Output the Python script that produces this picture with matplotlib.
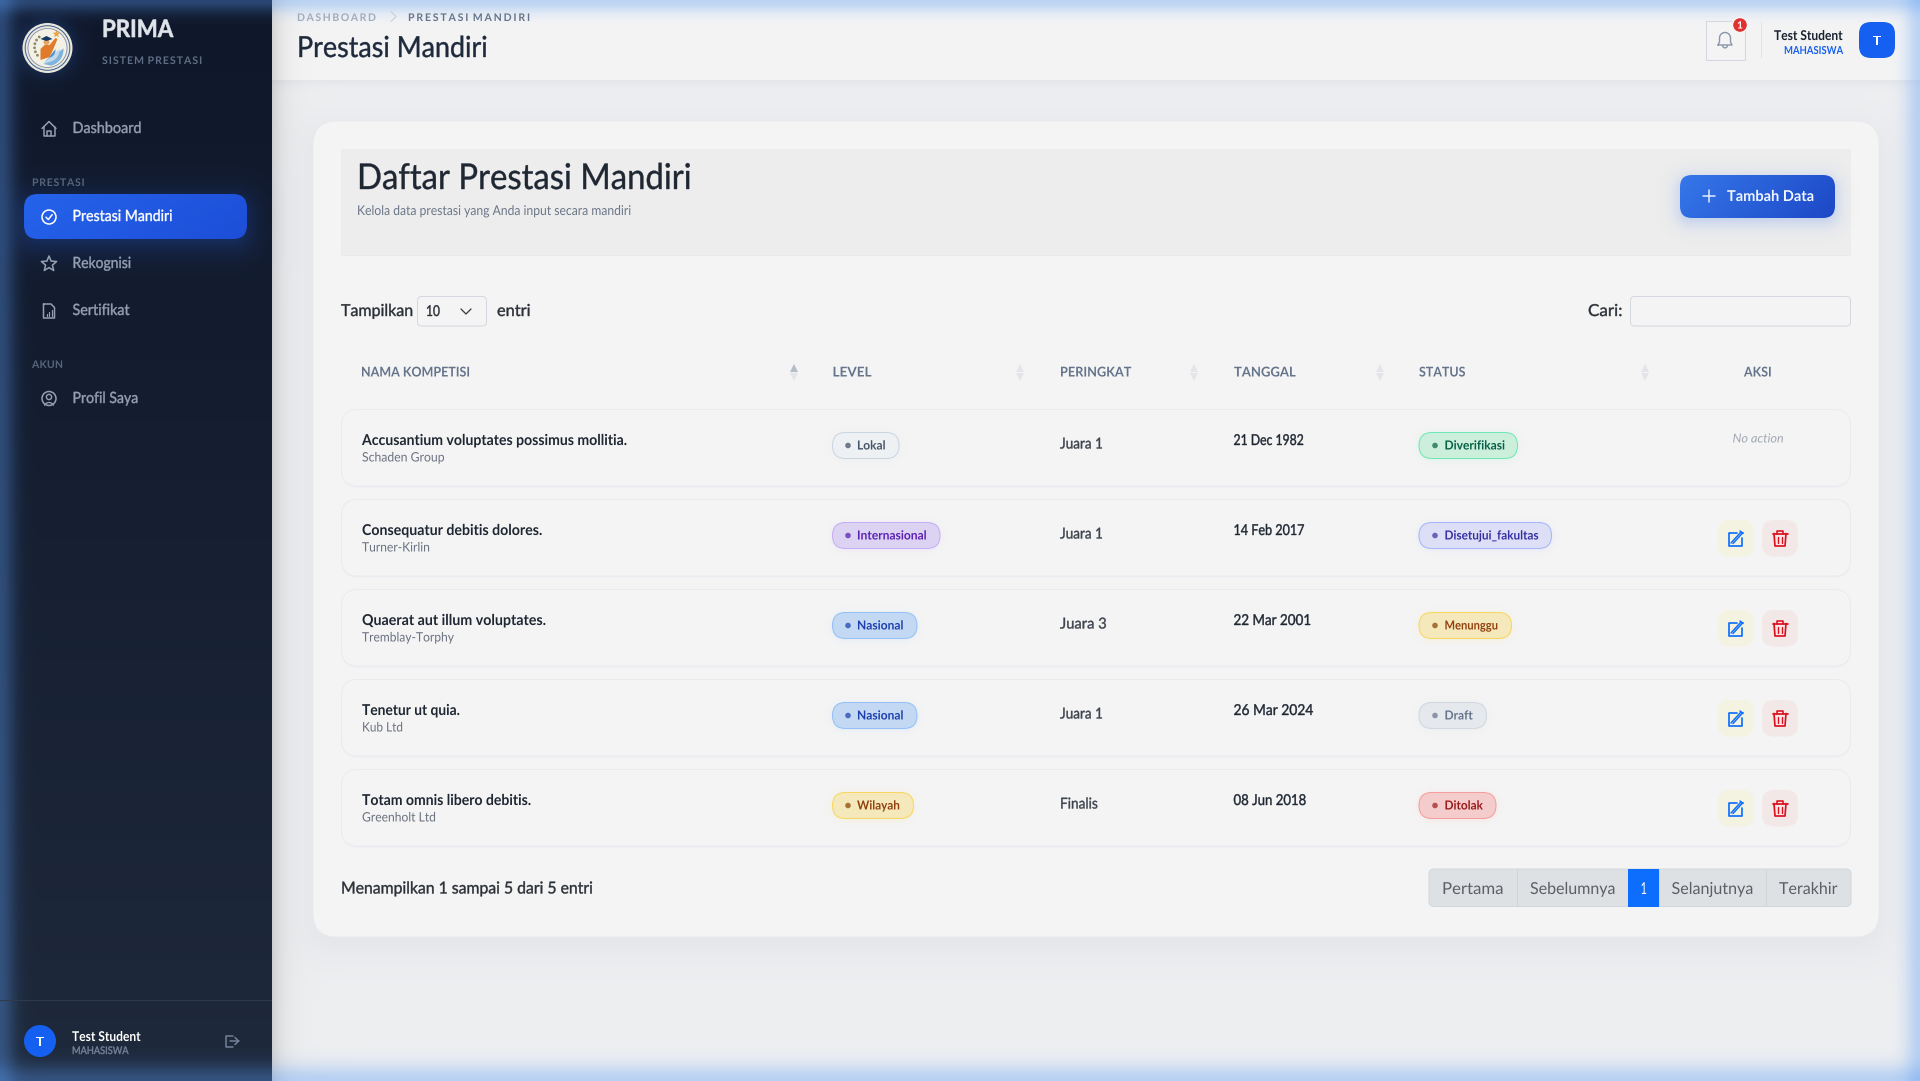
#!/usr/bin/env python3
"""Prestasi Mandiri page of the PRIMA dashboard, drawn in pixel coordinates."""
import numpy as np
import matplotlib
matplotlib.use("Agg")
import matplotlib.pyplot as plt
from matplotlib.patches import Circle, FancyBboxPatch, Polygon, Rectangle
from matplotlib.path import Path
from matplotlib.patheffects import AbstractPathEffect
from matplotlib.transforms import Affine2D

W, H = 1920, 1081
FONT = ["Lato", "DejaVu Sans"]

# table content
names = [
    "Accusantium voluptates possimus mollitia.",
    "Consequatur debitis dolores.",
    "Quaerat aut illum voluptates.",
    "Tenetur ut quia.",
    "Totam omnis libero debitis.",
]
companies = ["Schaden Group", "Turner-Kirlin", "Tremblay-Torphy", "Kub Ltd", "Greenholt Ltd"]
levels = ["Lokal", "Internasional", "Nasional", "Nasional", "Wilayah"]
ranks = ["Juara 1", "Juara 1", "Juara 3", "Juara 1", "Finalis"]
dates = ["21 Dec 1982", "14 Feb 2017", "22 Mar 2001", "26 Mar 2024", "08 Jun 2018"]
statuses = ["Diverifikasi", "Disetujui_fakultas", "Menunggu", "Draft", "Ditolak"]
headers = ["NAMA KOMPETISI", "LEVEL", "PERINGKAT", "TANGGAL", "STATUS", "AKSI"]
pages = ["Pertama", "Sebelumnya", "1", "Selanjutnya", "Terakhir"]

# measured layout, same order as the lists above
name_right = [627, 542.5, 546, 460, 531]
company_right = [444.5, 430, 454, 403, 436]
level_text_right = [885.5, 927, 903.5, 903.5, 900]
level_pill_right = [899, 940, 917, 917, 913.5]
rank_right = [1103, 1103, 1107, 1103, 1098]
date_right = [1304, 1304.5, 1311, 1313, 1306.5]
status_text_right = [1505, 1539, 1498, 1473, 1483]
status_pill_right = [1517.5, 1551.5, 1511.5, 1486.5, 1496]
header_x = [(361, 471), (832.5, 872), (1060, 1132), (1234, 1296), (1419, 1466), (1744, 1772)]
sort_x = [793.5, 1020, 1194, 1380, 1645]
page_edges = [1429, 1517, 1628, 1659, 1766, 1851]
page_text = [(1442, 1503.5), (1530, 1615.5), (1640.5, 1647), (1671.5, 1753.5), (1779, 1837.5)]

# fill, border, text, dot
PILL = {
    "Lokal": ("#eef1f4", "#cbd5e1", "#475569", "#6f7b8c"),
    "Internasional": ("#dcd3f3", "#c4aef5", "#5b21b6", "#7c4fc0"),
    "Nasional": ("#c3d8f3", "#93c1f8", "#1e40af", "#4a6bc0"),
    "Wilayah": ("#f5e9bb", "#f6d860", "#92400e", "#a67238"),
    "Diverifikasi": ("#ccefdc", "#6ee7b7", "#065f46", "#3f8a6d"),
    "Disetujui_fakultas": ("#dcdff5", "#a5b4fc", "#3730a3", "#6a64b8"),
    "Menunggu": ("#f5e9bb", "#f6d860", "#92400e", "#a67238"),
    "Draft": ("#e5e9ee", "#d1d7e0", "#64748b", "#8a94a6"),
    "Ditolak": ("#f5cccc", "#f59c9c", "#991b1b", "#b55050"),
}


class FitText(AbstractPathEffect):
    """Outfit is not installed, so Lato gets fitted to the measured width.

    sx stretches the glyphs, track (px) adds CSS style letter spacing,
    thicken strokes the outline to stand in for the missing medium weight.
    """

    def __init__(self, sx=1.0, track=0.0, thicken=0.0):
        super().__init__()
        self.sx = sx
        self.track = track
        self.thicken = thicken

    def draw_path(self, renderer, gc, tpath, affine, rgbFace=None):
        if self.track:
            tpath = self.spaced(tpath, self.track / affine.get_matrix()[0, 0])
        gc.set_linewidth(self.thicken)
        renderer.draw_path(gc, tpath, Affine2D().scale(self.sx, 1) + affine, rgbFace)

    @staticmethod
    def spaced(tpath, track):
        verts = tpath.vertices.copy()
        starts = np.flatnonzero(tpath.codes == Path.MOVETO)
        ends = np.r_[starts[1:], len(verts)]
        glyph, right = -1, -np.inf
        for s, e in zip(starts, ends):
            # contours overlapping in x belong to one glyph (holes, dots),
            # the margin lets kerned neighbours count as separate glyphs
            if verts[s:e, 0].min() >= right - 4:
                glyph += 1
                right = verts[s:e, 0].max()
            else:
                right = max(right, verts[s:e, 0].max())
            verts[s:e, 0] += glyph * track
        return Path(verts, tpath.codes)


def rgb(color):
    return np.array(matplotlib.colors.to_rgb(color))


def rrect_dist(xx, yy, x0, y0, x1, y1, r):
    qx = np.abs(xx - (x0 + x1) / 2) - (x1 - x0) / 2 + r
    qy = np.abs(yy - (y0 + y1) / 2) - (y1 - y0) / 2 + r
    return np.hypot(np.maximum(qx, 0), np.maximum(qy, 0)) + np.minimum(np.maximum(qx, qy), 0) - r


def shadow(img, x0, y0, x1, y1, r, blur, color, alpha, dy=0):
    yy, xx = np.mgrid[0:H, 0:W] + 0.5
    d = rrect_dist(xx, yy, x0, y0 + dy, x1, y1 + dy, r)
    a = alpha / (1 + np.exp(np.clip(d / (blur * 0.4), -30, 30)))
    img += (rgb(color) - img) * a[..., None]


def soft_shadow(x0, y0, x1, y1, r, blur, color, alpha, dy=0, zorder=3):
    # same falloff as shadow(), as an overlay for boxes sitting on patches
    m = int(blur * 2)
    gx0, gy0 = int(x0) - m, int(y0) - m
    gx1, gy1 = int(x1) + m, int(y1) + m + int(dy)
    yy, xx = np.mgrid[gy0:gy1, gx0:gx1] + 0.5
    d = rrect_dist(xx, yy, x0, y0 + dy, x1, y1 + dy, r)
    rgba = np.zeros(d.shape + (4,))
    rgba[..., :3] = rgb(color)
    rgba[..., 3] = alpha / (1 + np.exp(np.clip(d / (blur * 0.4), -30, 30)))
    ax.imshow(rgba, extent=(gx0, gx1, gy1, gy0), zorder=zorder, interpolation="nearest", aspect="auto")


def build_background():
    img = np.zeros((H, W, 3))
    img[:] = rgb("#eeeff1")
    # header
    shadow(img, 272, -40, W + 40, 80, 0, 8, "#64748b", 0.14, dy=1)
    img[:80, 272:] = rgb("#f4f4f4")
    img[80, 272:] = rgb("#e6e7ea")
    # card shadow
    shadow(img, 313, 121, 1879, 937, 24, 34, "#64748b", 0.10, dy=10)
    # sidebar with the shadow it throws on the page
    grad = np.linspace(0, 1, H)[:, None, None]
    xs = np.arange(W - 272)[None, :, None]
    img[:, 272:] *= 1 - 0.13 * np.exp(-xs / 11.0)
    img[:, :272] = rgb("#0f172a") * (1 - grad) + rgb("#1e293b") * grad
    shadow(img, 24, 194, 247, 239, 14, 22, "#2563eb", 0.36, dy=6)
    shadow(img, 23, 23, 72, 72, 24, 14, "#3b82f6", 0.30)
    # blue inner glow along the window edge
    yy, xx = np.mgrid[0:H, 0:W] + 0.5
    for dist, s in ((xx, 15.0), (W - xx, 15.0), (yy, 13.0), (H - yy, 17.0)):
        a = 0.36 * np.exp(-((dist / s) ** 2))
        img += (rgb("#5a9cf5") - img) * a[..., None]
    return np.clip(img, 0, 1)


def label(x, y, s, px, color, weight="normal", right=None, ha="left", style="normal",
          zorder=6, tracked=False):
    # 500 and 900 are not in the installed Lato, they get a thin outline instead
    thicken = {500: 0.28, 900: 0.45}.get(weight, 0.0)
    face = {500: "normal", 900: "bold"}.get(weight, weight)
    t = ax.text(x, y, s, fontsize=px * 0.72, color=color, family=FONT, weight=face,
                style=style, ha="left", va="baseline", zorder=zorder)
    natural = t.get_window_extent(renderer).width
    target = right - x if right is not None else natural
    if tracked:
        gaps = len(s.replace(" ", "")) - 1
        t.set_path_effects([FitText(track=(target - natural) / gaps, thicken=thicken)])
    else:
        t.set_path_effects([FitText(target / natural, thicken=thicken)])
    if ha == "center":
        t.set_x(x - target / 2)
    return t


def rbox(x0, y0, x1, y1, r, face, edge="none", lw=1.0, zorder=3):
    p = FancyBboxPatch((x0, y0), x1 - x0, y1 - y0, boxstyle=f"round,pad=0,rounding_size={r}",
                       fc=face, ec=edge, lw=lw * 0.72, zorder=zorder)
    ax.add_patch(p)
    return p


def stroke(xs, ys, color, lw=1.5, zorder=7):
    ax.plot(xs, ys, color=color, lw=lw * 0.72, zorder=zorder, solid_capstyle="round",
            solid_joinstyle="round")


def gradient_box(x0, y0, x1, y1, r, c0, c1, zorder=4):
    # left to right with a slight diagonal
    yy, xx = np.mgrid[0:1:32j, 0:1:128j]
    t = (0.8 * xx + 0.2 * yy)[..., None]
    im = ax.imshow(rgb(c0) * (1 - t) + rgb(c1) * t, extent=(x0, x1, y1, y0), zorder=zorder,
                   interpolation="bilinear", aspect="auto")
    im.set_clip_path(rbox(x0, y0, x1, y1, r, "none", zorder=zorder))


def icon_home(cx, cy, c):
    stroke([cx - 7, cx, cx + 7], [cy - 0.5, cy - 7.5, cy - 0.5], c)
    stroke([cx - 5.5, cx - 5.5, cx + 5.5, cx + 5.5], [cy - 2, cy + 7, cy + 7, cy - 2], c)
    stroke([cx - 2, cx - 2, cx + 2, cx + 2], [cy + 7, cy + 2, cy + 2, cy + 7], c)


def icon_check(cx, cy, c):
    ax.add_patch(Circle((cx, cy), 7, fc="none", ec=c, lw=1.1, zorder=7))
    stroke([cx - 3, cx - 0.7, cx + 3.2], [cy + 0.2, cy + 2.6, cy - 2.4], c)


def icon_star(cx, cy, c):
    ang = -np.pi / 2 + np.arange(10) * np.pi / 5
    rad = np.where(np.arange(10) % 2 == 0, 8, 3.6)
    ax.add_patch(Polygon(np.c_[cx + rad * np.cos(ang), cy + rad * np.sin(ang)], closed=True,
                         fc="none", ec=c, lw=1.1, joinstyle="round", zorder=7))


def icon_file(cx, cy, c):
    stroke([cx - 5.5, cx + 2, cx + 5.5, cx + 5.5, cx - 5.5, cx - 5.5],
           [cy - 7, cy - 7, cy - 3.5, cy + 7, cy + 7, cy - 7], c)
    for dx, top in ((-2.5, 3), (0, 1), (2.5, -1)):
        stroke([cx + dx, cx + dx], [cy + 4.5, cy + top], c, 1.2)


def icon_user(cx, cy, c):
    ax.add_patch(Circle((cx, cy), 7, fc="none", ec=c, lw=1.1, zorder=7))
    ax.add_patch(Circle((cx, cy - 1.5), 2.6, fc="none", ec=c, lw=1.0, zorder=7))
    t = np.linspace(np.pi * 1.15, np.pi * 1.85, 12)
    stroke(cx + 5 * np.cos(t), cy + 9 + 5 * np.sin(t), c, 1.3)


def icon_bell(cx, cy, c):
    t = np.linspace(np.pi, 2 * np.pi, 20)
    xs = np.r_[cx - 7, cx - 5.5, cx + 5.5 * np.cos(t), cx + 5.5, cx + 7, cx - 7]
    ys = np.r_[cy + 5, cy + 2, cy - 2 + 5.5 * np.sin(t), cy + 2, cy + 5, cy + 5]
    stroke(xs, ys, c, 1.4)
    t = np.linspace(0, np.pi, 10)
    stroke(cx + 2.4 * np.cos(t), cy + 5.5 + 2.4 * np.sin(t), c, 1.4)


def icon_edit(cx, cy, c):
    stroke([cx + 1, cx - 7, cx - 7, cx + 6, cx + 6], [cy - 6, cy - 6, cy + 7, cy + 7, cy - 1], c, 1.7)
    stroke([cx - 4.5, cx + 5.5], [cy + 4.5, cy - 6.5], c, 1.5)
    stroke([cx - 2.5, cx + 7.5], [cy + 5, cy - 6], c, 1.5)
    stroke([cx + 4.5, cx + 7.5], [cy - 7.5, cy - 5], c, 1.5)


def icon_trash(cx, cy, c):
    stroke([cx - 7.5, cx + 7.5], [cy - 5, cy - 5], c, 1.7)
    stroke([cx - 3, cx - 3, cx + 3, cx + 3], [cy - 5, cy - 8, cy - 8, cy - 5], c, 1.6)
    stroke([cx - 6, cx - 5, cx + 5, cx + 6], [cy - 5, cy + 7.5, cy + 7.5, cy - 5], c, 1.7)
    for dx in (-2, 2):
        stroke([cx + dx, cx + dx], [cy - 1.5, cy + 4.5], c, 1.4)


def icon_logout(cx, cy, c):
    stroke([cx + 1, cx - 5.5, cx - 5.5, cx + 1], [cy - 5.5, cy - 5.5, cy + 5.5, cy + 5.5], c)
    stroke([cx - 1.5, cx + 7], [cy, cy], c)
    stroke([cx + 3.5, cx + 7, cx + 3.5], [cy - 3.5, cy, cy + 3.5], c)


def draw_logo(cx, cy):
    ax.add_patch(Circle((cx, cy), 25, fc="#e9e6dc", ec="none", zorder=5))
    ax.add_patch(Circle((cx, cy), 22.3, fc="none", ec="#3d5f8f", lw=0.7, zorder=5))
    ax.add_patch(Circle((cx, cy), 19.5, fc="#f3f0e6", ec="#7f8fa6", lw=0.6, zorder=5))
    # waves on the right
    for r, col in ((16, "#7fb4dd"), (12, "#c2dbec"), (8, "#4f8fcb")):
        t = np.linspace(-0.1, 1.35, 16)
        ax.add_patch(Polygon(np.c_[np.r_[cx + r * np.cos(t), cx - 4],
                                   np.r_[cy + 2 + r * np.sin(t), cy + 16]],
                             fc=col, ec="none", zorder=5))
    # figure with gown
    ax.add_patch(Polygon([(cx - 7, cy + 12), (cx - 7, cy + 1), (cx - 3, cy - 3), (cx + 2, cy - 3),
                          (cx + 8, cy - 10), (cx + 10, cy - 9), (cx + 5, cy + 3), (cx + 2, cy + 9)],
                         fc="#e07b2a", ec="none", zorder=6))
    ax.add_patch(Circle((cx - 1, cy - 6), 3, fc="#e9a463", ec="none", zorder=6))
    ax.add_patch(Polygon([(cx - 7, cy - 9), (cx - 1, cy - 12), (cx + 5, cy - 9), (cx - 1, cy - 7)],
                         fc="#163a66", ec="none", zorder=7))
    # laurel on the left
    for a in np.linspace(0.72, 1.22, 6) * np.pi:
        ax.add_patch(Circle((cx + 13 * np.cos(a), cy - 1 - 13 * np.sin(a)), 1.4,
                            fc="#8d8a63", ec="none", zorder=6))
    # star at the top
    ang = -np.pi / 2 + np.arange(10) * np.pi / 5
    rad = np.where(np.arange(10) % 2 == 0, 4, 1.7)
    ax.add_patch(Polygon(np.c_[cx + 9 + rad * np.cos(ang), cy - 14 + rad * np.sin(ang)],
                         fc="#e8a33a", ec="none", zorder=7))


fig = plt.figure(figsize=(W / 100, H / 100), dpi=100)
ax = fig.add_axes([0, 0, 1, 1])
renderer = fig.canvas.get_renderer()
ax.imshow(build_background(), extent=(0, W, H, 0), interpolation="nearest", zorder=0)

# card, title panel
rbox(313, 121, 1879, 937, 24, "#f4f4f4", "#e9eaed", zorder=1)
ax.add_patch(Rectangle((341, 149), 1510, 106, fc="#ededed", ec="none", zorder=2))
ax.add_patch(Rectangle((341, 255), 1510, 1, fc="#e8e9eb", ec="none", zorder=2))

# sidebar
draw_logo(47.5, 48)
label(102, 37, "PRIMA", 24, "#dfe3ea", 900, right=173)
label(102, 64, "SISTEM PRESTASI", 10.5, "#5f6e84", "bold", right=202, tracked=True)
MUTED = "#95a1b2"
icon_home(49, 129, MUTED)
label(72.5, 133, "Dashboard", 15.5, MUTED, 500, right=141.5)
label(32, 186, "PRESTASI", 10.5, "#56657c", "bold", right=84.5, tracked=True)
gradient_box(24, 194, 247, 239, 14, "#2563eb", "#1d4ed8")
icon_check(49, 217, "#ffffff")
label(72.5, 221, "Prestasi Mandiri", 15.5, "#ffffff", 500, right=172.5)
icon_star(49, 264, MUTED)
label(72.5, 268, "Rekognisi", 15.5, MUTED, 500, right=131)
icon_file(49, 311, MUTED)
label(72.5, 315, "Sertifikat", 15.5, MUTED, 500, right=130)
label(32, 368, "AKUN", 10.5, "#56657c", "bold", right=63, tracked=True)
icon_user(49, 398.5, MUTED)
label(72.5, 403, "Profil Saya", 15.5, MUTED, 500, right=138.5)
ax.add_patch(Rectangle((0, 1000), 272, 1, fc="#2f3a4d", ec="none", zorder=2))
ax.add_patch(Circle((40, 1041), 16, fc="#1560f0", ec="none", zorder=4))
label(40, 1046, "T", 13, "#ffffff", "bold", ha="center")
label(72, 1041, "Test Student", 13.5, "#ffffff", "bold", right=141)
label(72, 1054, "MAHASISWA", 10.5, "#74829a", 500, right=128.5)
icon_logout(231.5, 1041, "#74829a")

# top bar
label(297, 21, "DASHBOARD", 10.5, "#a0acbd", "bold", right=376, tracked=True)
stroke([391, 396, 391], [11.5, 16.5, 21.5], "#c5ccd6", 1.0)
label(408, 21, "PRESTASI MANDIRI", 10.5, "#64748b", "bold", right=530, tracked=True)
label(297, 57, "Prestasi Mandiri", 29, "#1e293b", 500, right=487.5)
ax.add_patch(Rectangle((1705.5, 20.5), 39, 39, fc="#f4f4f4", ec="#d3d8e0", lw=0.75, zorder=3))
icon_bell(1725, 40, "#8a97a9")
ax.add_patch(Circle((1740, 25), 7.5, fc="#e03131", ec="#f6f6f6", lw=1.0, zorder=8))
label(1740, 28.5, "1", 10, "#ffffff", "bold", ha="center", zorder=9)
ax.add_patch(Rectangle((1761, 22), 1, 36, fc="#dfe2e7", ec="none", zorder=3))
label(1774, 40, "Test Student", 13.5, "#1a2230", "bold", right=1843)
label(1784, 54, "MAHASISWA", 11, "#1560f0", "bold", right=1843)
rbox(1859, 22, 1895, 58, 12, "#1560f0")
label(1877, 45, "T", 13, "#ffffff", "bold", ha="center")

# panel heading
label(357, 189, "Daftar Prestasi Mandiri", 35.5, "#1f2733", 500, right=692)
label(357, 215, "Kelola data prestasi yang Anda input secara mandiri", 13.5, "#6b7688", right=633)
soft_shadow(1680, 175, 1835, 218, 12, 14, "#2563eb", 0.28, dy=4)
gradient_box(1680, 175, 1835, 218, 12, "#3577ea", "#1d48c6")
stroke([1703, 1715], [196, 196], "#e8efff", 1.5)
stroke([1709, 1709], [190, 202], "#e8efff", 1.5)
label(1727, 201, "Tambah Data", 15, "#f1f5ff", "bold", right=1814)

# length menu and search
BODY = "#2a2f36"
label(341, 316, "Tampilkan", 16.5, BODY, 500, right=413.5)
rbox(417.5, 296.5, 486.5, 326, 4, "#f4f4f4", "#d5d8de")
label(426, 316, "10", 15, BODY, 500, right=440)
stroke([461, 466, 471], [309, 314, 309], "#3a3f46", 1.3)
label(497, 316, "entri", 16.5, BODY, 500, right=530.5)
label(1588, 316, "Cari:", 16.5, BODY, 500, right=1622.5)
rbox(1630.5, 296.5, 1850.5, 326, 4, "#f4f4f4", "#d5d8de")

# table head
for (x0, x1), text in zip(header_x, headers):
    label(x0, 376.5, text, 13.5, "#64748b", "bold", right=x1)
for i, x in enumerate(sort_x):
    up, down = ("#b4bcc8", "#e3e5e9") if i == 0 else ("#e3e5e9", "#e3e5e9")
    ax.plot(x, 367.5, marker="^", ms=6, color=up, mew=0, zorder=4)
    ax.plot(x, 376.5, marker="v", ms=6, color=down, mew=0, zorder=4)

# rows
for i in range(len(names)):
    top = 409.5 + 90 * i
    rbox(341.5, top + 2, 1850.5, top + 78, 16, "#eeeff2", zorder=2)
    rbox(341.5, top, 1850.5, top + 76.5, 16, "#f4f4f4", "#e9ebef", zorder=3)
    label(362, top + 35.5, names[i], 15, "#1f2733", "bold", right=name_right[i])
    label(362, top + 52, companies[i], 13, "#6b7280", right=company_right[i])

    fill, edge, txt, dot = PILL[levels[i]]
    soft_shadow(832.5, top + 23, level_pill_right[i], top + 49, 13, 5, edge, 0.22, dy=1, zorder=3.5)
    rbox(832.5, top + 23, level_pill_right[i], top + 49, 13, fill, edge, zorder=4)
    ax.add_patch(Circle((848, top + 36), 2.8, fc=dot, ec="none", zorder=5))
    label(857, top + 40, levels[i], 12.5, txt, "bold", right=level_text_right[i])

    label(1060, top + 39, ranks[i], 15, "#3c424c", 500, right=rank_right[i])
    label(1233.5, top + 35.5, dates[i], 15, "#1f2733", 500, right=date_right[i])

    fill, edge, txt, dot = PILL[statuses[i]]
    soft_shadow(1419, top + 23, status_pill_right[i], top + 49, 13, 5, edge, 0.22, dy=1, zorder=3.5)
    rbox(1419, top + 23, status_pill_right[i], top + 49, 13, fill, edge, zorder=4)
    ax.add_patch(Circle((1435, top + 36), 2.8, fc=dot, ec="none", zorder=5))
    label(1444.5, top + 40, statuses[i], 12.5, txt, "bold", right=status_text_right[i])

    if i == 0:
        label(1732.5, top + 33, "No action", 12.5, "#a2a8b2", style="italic", right=1783.5)
    else:
        rbox(1718, top + 20.5, 1753.5, top + 57, 12, "#f4f2e0", zorder=4)
        rbox(1762, top + 20.5, 1798, top + 57, 12, "#f3e8e8", zorder=4)
        icon_edit(1735.5, top + 39, "#0d6efd")
        icon_trash(1780, top + 39, "#dc0f1f")

# footer
label(341, 893.5, "Menampilkan 1 sampai 5 dari 5 entri", 16.5, BODY, 500, right=593.5)
rbox(page_edges[0], 869, page_edges[-1], 906.5, 5, "#dee1e4", "#d3d7db")
for x in page_edges[1:-1]:
    ax.add_patch(Rectangle((x, 869.5), 1, 36.5, fc="#d0d4d8", ec="none", zorder=4))
ax.add_patch(Rectangle((page_edges[2], 869), page_edges[3] - page_edges[2], 37.5, fc="#0d6efd",
                       ec="none", zorder=5))
for j, (text, (x0, x1)) in enumerate(zip(pages, page_text)):
    label(x0, 894, text, 16.5, "#ffffff" if j == 2 else "#5c6066", right=x1)

ax.set_xlim(0, W)
ax.set_ylim(H, 0)
ax.axis("off")
fig.savefig("out.png", dpi=100)
